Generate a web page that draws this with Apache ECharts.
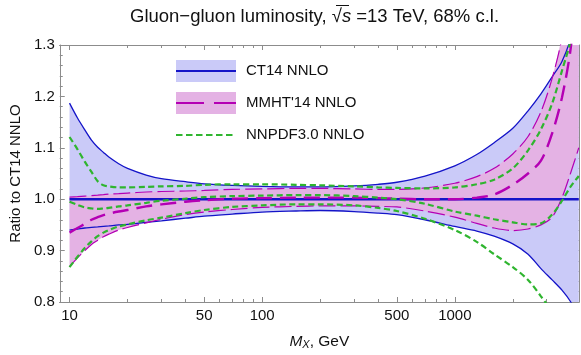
<!DOCTYPE html>
<html lang="en">
<head>
  <meta charset="UTF-8">
  <title>Gluon-gluon luminosity</title>
  <script src="https://cdn.jsdelivr.net/npm/echarts@6.0.0/dist/echarts.min.js"></script>
  <style>
    * { margin: 0; padding: 0; box-sizing: border-box; }
    body { background: #fff; }
    #chart { width: 581px; height: 355px; }
  </style>
</head>
<body>
  <div id="chart"></div>
  <script>
    // mass grid, GeV
    var massGrid = [10, 11, 12, 13, 14, 15, 16, 18, 20, 25, 30, 40, 50, 70, 100, 150, 200, 300, 400, 500, 700, 1000, 1300, 1600, 2000, 2400, 2800, 3200, 3600, 4000, 4400];

    // ratios to CT14 NNLO
    var ct14Central = [1, 1, 1, 1, 1, 1, 1, 1, 1, 1, 1, 1, 1, 1, 1, 1, 1, 1, 1, 1, 1, 1, 1, 1, 1, 1, 1, 1, 1, 1, 1];
    var ct14Upper = [1.187, 1.158, 1.135, 1.115, 1.101, 1.091, 1.082, 1.069, 1.060, 1.047, 1.040, 1.034, 1.030, 1.027, 1.025, 1.024, 1.024, 1.026, 1.029, 1.033, 1.045, 1.065, 1.087, 1.110, 1.138, 1.172, 1.205, 1.238, 1.268, 1.315, 1.40];
    var ct14Lower = [0.940, 0.942, 0.944, 0.945, 0.946, 0.947, 0.948, 0.950, 0.951, 0.955, 0.958, 0.963, 0.967, 0.971, 0.975, 0.977, 0.978, 0.976, 0.973, 0.970, 0.960, 0.947, 0.938, 0.928, 0.913, 0.893, 0.865, 0.843, 0.823, 0.800, 0.770];

    var mmhtCentral = [0.935, 0.944, 0.952, 0.960, 0.965, 0.969, 0.972, 0.976, 0.979, 0.986, 0.990, 0.995, 0.998, 1.001, 1.002, 1.003, 1.003, 1.003, 1.002, 1.001, 1.000, 1.000, 1.003, 1.009, 1.028, 1.050, 1.075, 1.128, 1.198, 1.295, 1.45];
    var mmhtUpper = [1.004, 1.005, 1.006, 1.007, 1.008, 1.009, 1.010, 1.011, 1.012, 1.014, 1.015, 1.016, 1.017, 1.019, 1.020, 1.021, 1.021, 1.020, 1.019, 1.019, 1.022, 1.031, 1.044, 1.060, 1.088, 1.122, 1.170, 1.235, 1.315, 1.45, 1.60];
    var mmhtLower = [0.869, 0.886, 0.900, 0.912, 0.920, 0.927, 0.932, 0.940, 0.945, 0.954, 0.961, 0.970, 0.975, 0.980, 0.984, 0.986, 0.987, 0.987, 0.986, 0.985, 0.977, 0.965, 0.953, 0.944, 0.939, 0.942, 0.950, 0.965, 1.003, 1.052, 1.10];

    var nnpdfCentral = [0.995, 0.989, 0.984, 0.982, 0.981, 0.982, 0.983, 0.986, 0.988, 0.993, 0.997, 1.001, 1.004, 1.006, 1.007, 1.008, 1.008, 1.006, 1.003, 1.000, 0.991, 0.976, 0.968, 0.961, 0.955, 0.951, 0.953, 0.970, 0.997, 1.025, 1.045];
    var nnpdfUpper = [1.121, 1.097, 1.073, 1.053, 1.035, 1.027, 1.025, 1.023, 1.023, 1.024, 1.025, 1.026, 1.028, 1.029, 1.029, 1.028, 1.027, 1.025, 1.023, 1.022, 1.021, 1.023, 1.029, 1.038, 1.060, 1.095, 1.136, 1.186, 1.250, 1.310, 1.40];
    var nnpdfLower = [0.868, 0.888, 0.905, 0.918, 0.928, 0.935, 0.940, 0.947, 0.951, 0.959, 0.964, 0.973, 0.979, 0.985, 0.988, 0.990, 0.990, 0.988, 0.983, 0.977, 0.962, 0.940, 0.917, 0.893, 0.868, 0.843, 0.811, 0.780, 0.740, 0.700, 0.660];

    // axis ticks
    var majorTicks = [10, 50, 100, 500, 1000];
    var minorTicks = [20, 30, 40, 60, 70, 80, 90, 200, 300, 400, 600, 700, 800, 900, 2000, 3000, 4000];
    var legendNames = ['CT14 NNLO', "MMHT'14 NNLO", 'NNPDF3.0 NNLO'];

    var blue = '#1414c8', blueFill = '#cacaf8';
    var magenta = '#b400b4', pinkFill = '#e4b2e4';
    var green = '#2fb52f';
    var axisGray = '#8c8c8c';
    var font = 'Liberation Sans';

    var xMin = 1 - 10 / 197, xMax = 1 + 521 / 197;

    function pairs(vals) {
      return massGrid.map(function (m, i) { return [Math.log10(m), vals[i]]; });
    }
    var logs = function (arr) { return arr.map(function (v) { return Math.log10(v); }); };

    function xAxisDef(pos, ticks, len, labels) {
      return {
        type: 'value', position: pos, min: xMin, max: xMax,
        axisLine: { show: true, onZero: false, lineStyle: { color: axisGray, width: 1 } },
        splitLine: { show: false },
        axisTick: { show: true, inside: true, length: len, customValues: logs(ticks), lineStyle: { color: axisGray } },
        axisLabel: labels ? {
          show: true, customValues: logs(ticks), margin: 6, color: '#111', fontSize: 15, fontFamily: font,
          formatter: function (v) { return String(Math.round(Math.pow(10, v))); }
        } : { show: false }
      };
    }
    function yAxisDef(pos, labels) {
      return {
        type: 'value', position: pos, min: 0.8, max: 1.3, interval: 0.1,
        axisLine: { show: true, lineStyle: { color: axisGray, width: 1 } },
        splitLine: { show: false },
        axisTick: { show: true, inside: true, length: 5, lineStyle: { color: axisGray } },
        minorTick: { show: true, splitNumber: 5, length: 3, lineStyle: { color: axisGray } },
        axisLabel: labels ? { show: true, margin: 5, color: '#111', fontSize: 15, fontFamily: font,
          formatter: function (v) { return v.toFixed(1); } } : { show: false }
      };
    }

    // shaded band between lower and upper, drawn as one polygon through the axes
    function band(lower, upper, fill) {
      var rows = massGrid.map(function (m, i) { return [Math.log10(m), lower[i], upper[i]]; });
      return {
        type: 'custom', data: rows, clip: true, silent: true, z: 1,
        encode: { x: 0, y: [1, 2] },
        renderItem: function (params, api) {
          if (params.dataIndex !== 0) return null;
          var pts = [];
          rows.forEach(function (r) { pts.push(api.coord([r[0], r[1]])); });
          for (var i = rows.length - 1; i >= 0; i--) pts.push(api.coord([rows[i][0], rows[i][2]]));
          return { type: 'polygon', shape: { points: pts }, style: { fill: fill } };
        }
      };
    }
    function curve(vals, color, width, dash, z) {
      return { type: 'line', data: pairs(vals), symbol: 'none', smooth: 0.3, silent: true, z: z,
        lineStyle: { color: color, width: width, type: dash || 'solid' } };
    }

    var series = [
      band(ct14Lower, ct14Upper, blueFill),
      band(mmhtLower, mmhtUpper, pinkFill),
      curve(ct14Upper, blue, 1.3, null, 3),
      curve(ct14Lower, blue, 1.3, null, 3),
      curve(ct14Central, blue, 2.5, null, 3),
      curve(mmhtUpper, magenta, 1.2, [17, 5], 4),
      curve(mmhtLower, magenta, 1.2, [17, 5], 4),
      curve(mmhtCentral, magenta, 2.4, [16, 8], 4),
      curve(nnpdfUpper, green, 2.2, [6, 3.5], 5),
      curve(nnpdfCentral, green, 2.2, [6, 3.5], 5),
      curve(nnpdfLower, green, 2.2, [6, 3.5], 5)
    ];

    var chart = echarts.init(document.getElementById('chart'), null, { renderer: 'canvas' });
    var option = {
      animation: false,
      backgroundColor: '#fff',
      title: {
        text: 'Gluon\u2212gluon luminosity, {r|\u221a}{s|s} =13 TeV, 68% c.l.',
        left: 125, top: 2,
        textStyle: {
          fontFamily: font, fontSize: 18.5, fontWeight: 'normal', color: '#111',
          rich: {
            r: { fontFamily: font, fontSize: 18.5, color: '#111' },
            s: { fontFamily: font, fontSize: 18.5, fontStyle: 'italic', color: '#111' }
          }
        }
      },
      grid: { left: 48, right: 2, top: 45, bottom: 44, containLabel: false },
      xAxis: [
        Object.assign(xAxisDef('bottom', majorTicks, 5, true), {
          name: '{i|M}{sub|X}, GeV', nameLocation: 'middle', nameGap: 31,
          nameTextStyle: { fontFamily: font, fontSize: 15.5, color: '#111',
            rich: { i: { fontStyle: 'italic', fontSize: 15.5, fontFamily: font, color: '#111' },
                    sub: { fontStyle: 'italic', fontSize: 11, fontFamily: font, color: '#111', verticalAlign: 'bottom', padding: [6, 0, 0, 0] } } }
        }),
        xAxisDef('bottom', minorTicks, 3, false),
        xAxisDef('top', majorTicks, 5, false),
        xAxisDef('top', minorTicks, 3, false)
      ],
      yAxis: [
        Object.assign(yAxisDef('left', true), {
          name: 'Ratio to CT14 NNLO', nameLocation: 'middle', nameGap: 31, nameRotate: 90,
          nameTextStyle: { fontFamily: font, fontSize: 15, color: '#111' }
        }),
        yAxisDef('right', false)
      ],
      series: series,
      graphic: [
        { type: 'rect', shape: { x: 176, y: 60, width: 60, height: 22 }, style: { fill: blueFill }, z: 10 },
        { type: 'line', shape: { x1: 176, y1: 71, x2: 236, y2: 71 }, style: { stroke: blue, lineWidth: 2 }, z: 11 },
        { type: 'text', x: 246, y: 71, z: 11, style: { text: legendNames[0], fill: '#111', font: '15px "Liberation Sans"', verticalAlign: 'middle' } },
        { type: 'rect', shape: { x: 176, y: 92, width: 60, height: 22 }, style: { fill: pinkFill }, z: 10 },
        { type: 'line', shape: { x1: 176, y1: 103, x2: 236, y2: 103 }, style: { stroke: magenta, lineWidth: 2, lineDash: [28, 10] }, z: 11 },
        { type: 'text', x: 246, y: 103, z: 11, style: { text: legendNames[1], fill: '#111', font: '15px "Liberation Sans"', verticalAlign: 'middle' } },
        { type: 'line', shape: { x1: 176, y1: 135, x2: 236, y2: 135 }, style: { stroke: green, lineWidth: 2, lineDash: [6.5, 3.5] }, z: 11 },
        { type: 'text', x: 246, y: 135, z: 11, style: { text: legendNames[2], fill: '#111', font: '15px "Liberation Sans"', verticalAlign: 'middle' } },
        // overline of the square root in the title
        { type: 'line', shape: { x1: 336, y1: 5.5, x2: 349, y2: 5.5 }, style: { stroke: '#111', lineWidth: 1 }, z: 11 }
      ]
    };
    chart.setOption(option);
  </script>
</body>
</html>
